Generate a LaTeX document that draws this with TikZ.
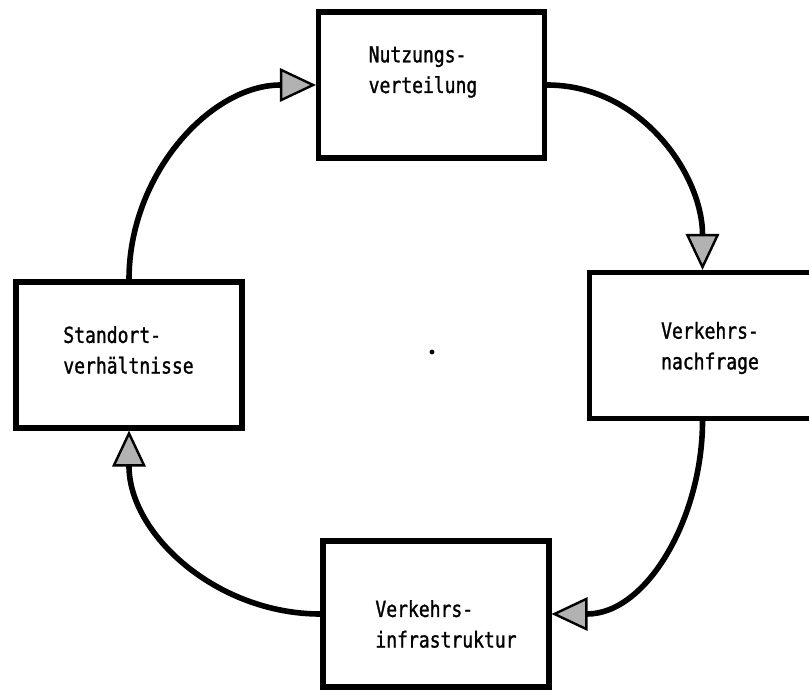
\documentclass[tikz,border=0pt]{standalone}
\usepackage{fontspec}
\newfontfamily\printfont[FakeStretch=0.82, FakeBold=1.2]{DejaVu Sans Mono}
\usetikzlibrary{arrows.meta}

\begin{document}
\begin{tikzpicture}[x=0.75pt, y=-0.75pt,
                      box/.style = {shape=rectangle, draw, line width=3.8pt,
                        minimum width=169.5pt, minimum height=109.5pt, inner sep=0pt},
                      boxtext/.style = {align=left, inner sep=0pt,
                        font=\printfont\fontsize{16.5}{23}\selectfont},
                      cyclearrow/.style = {line width=4.2pt,
                        -{Triangle[length=27pt, width=25pt, line width=1.8pt, fill=black!30]}}]
  \useasboundingbox (0,0) rectangle (809,691);
  \node[box] (nutzung) at (431.5,85) {};
  \node[box] (nachfrage) at (702.5,345.5) {};
  \node[box] (infra) at (436,614) {};
  \node[box] (standort) at (129,355) {};
  \node[boxtext] (nutzungtext) at (423,72) {Nutzungs-\\verteilung};
  \node[boxtext] (nachfragetext) at (710,348) {Verkehrs-\\nachfrage};
  \node[boxtext] (infratext) at (446,624) {Verkehrs-\\infrastruktur};
  \node[boxtext] (standorttext) at (128.5,350) {Standort-\\verhältnisse};
  \draw[cyclearrow] (standort.north) to[out=90, in=180] (nutzung.west);
  \draw[cyclearrow] (nutzung.east) to[out=0, in=90] (nachfrage.north);
  \draw[cyclearrow] (nachfrage.south) to[out=-90, in=0] (infra.east);
  \draw[cyclearrow] (infra.west) to[out=180, in=-90] (standort.south);
  \fill (432,352) circle (1.8pt);
\end{tikzpicture}
\end{document}
